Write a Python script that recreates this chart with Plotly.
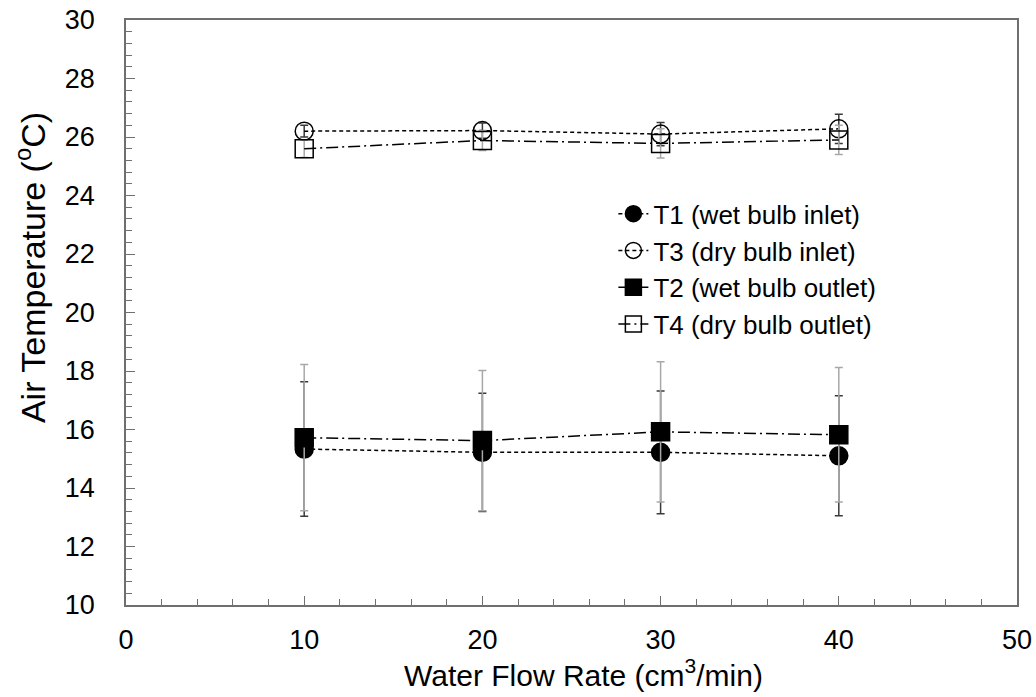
import plotly.graph_objects as go

flow = [10, 20, 30, 40]

t1 = [15.33, 15.22, 15.22, 15.10]
t1_err = [2.30, 2.02, 2.10, 2.05]
t3 = [26.20, 26.22, 26.10, 26.28]
t3_err = [0.20, 0.26, 0.40, 0.50]
t2 = [15.72, 15.62, 15.92, 15.82]
t2_err = [2.50, 2.40, 2.40, 2.30]
t4 = [25.60, 25.88, 25.78, 25.90]
t4_err = [0.30, 0.34, 0.50, 0.50]

names = ["T1 (wet bulb inlet)", "T3 (dry bulb inlet)",
         "T2 (wet bulb outlet)", "T4 (dry bulb outlet)"]
x_title = "Water Flow Rate (cm<sup>3</sup>/min)"
y_title = "Air Temperature (<sup>o</sup>C)"

FONT = "Liberation Sans, Arial, sans-serif"
DARK_ERR = "#3a3a3a"
LIGHT_ERR = "#a8a8a8"
AXIS = "#6f6f6f"

fig = go.Figure()

series = [
    (t1, t1_err, names[0], "circle", "black", "4px,3px", DARK_ERR),
    (t3, t3_err, names[1], "circle-open", "black", "4px,3px", DARK_ERR),
    (t2, t2_err, names[2], "square", "black", "12px,4px,2px,4px", LIGHT_ERR),
    (t4, t4_err, names[3], "square-open", "black", "12px,4px,2px,4px", LIGHT_ERR),
]

for vals, err, name, sym, col, dash, ecol in series:
    fig.add_trace(go.Scatter(
        x=flow, y=vals, name=name, mode="lines+markers",
        line=dict(color="black", width=1.5, dash=dash),
        marker=dict(symbol=sym, size=18, color=col,
                    line=dict(color="black", width=1.5)),
        error_y=dict(type="data", array=err, visible=True,
                     color=ecol, thickness=1.5, width=4),
    ))

fig.update_layout(
    width=1036, height=697,
    margin=dict(l=126, r=19, t=20, b=92, autoexpand=False),
    paper_bgcolor="white", plot_bgcolor="white",
    font=dict(family=FONT, size=26, color="black"),
    showlegend=True,
    legend=dict(x=0.547, y=0.709, xanchor="left", yanchor="top",
                bgcolor="rgba(0,0,0,0)", font=dict(size=26, family=FONT),
                tracegroupgap=0, itemwidth=30),
    annotations=[
        dict(text=x_title, xref="paper", yref="paper", x=0.514, y=-0.152,
             xanchor="center", yanchor="bottom", showarrow=False,
             font=dict(size=30, family=FONT, color="black")),
        dict(text=y_title, xref="paper", yref="paper", x=-0.1077, y=0.576,
             xanchor="center", yanchor="middle", showarrow=False, textangle=-90,
             font=dict(size=34, family=FONT, color="black")),
    ],
)

fig.update_xaxes(
    range=[0, 50], dtick=10, tick0=0, automargin=False,
    showline=True, linecolor=AXIS, linewidth=1.5, mirror=True,
    ticks="inside", ticklen=9, tickwidth=1.2, tickcolor=AXIS,
    minor=dict(dtick=2, ticks="inside", ticklen=6, tickwidth=1.2, tickcolor=AXIS),
    showgrid=False, zeroline=False,
    tickfont=dict(size=27, family=FONT),
    ticklabelstandoff=10,
)

fig.update_yaxes(
    range=[10, 30], dtick=2, tick0=10, automargin=False,
    showline=True, linecolor=AXIS, linewidth=1.5, mirror=True,
    ticks="inside", ticklen=9, tickwidth=1.2, tickcolor=AXIS,
    minor=dict(dtick=0.4, ticks="inside", ticklen=6, tickwidth=1.2, tickcolor=AXIS),
    showgrid=False, zeroline=False,
    tickfont=dict(size=27, family=FONT),
    ticklabelstandoff=24,
)

fig.write_html("out.html")
